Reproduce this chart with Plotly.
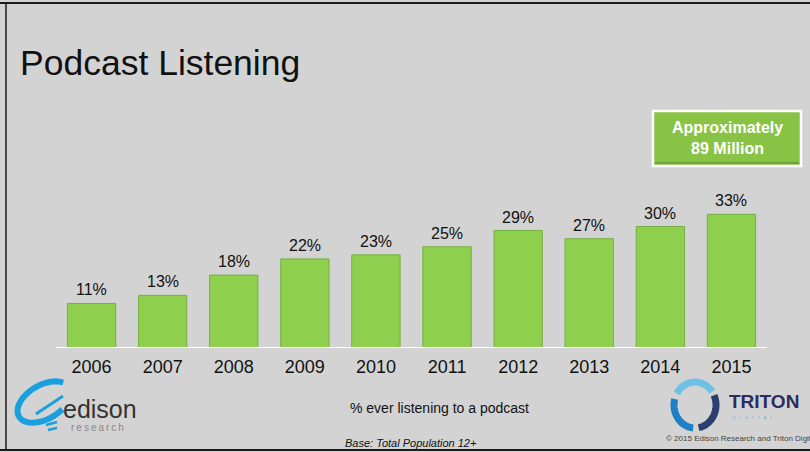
import numpy as np
import plotly.graph_objects as go

# ---- data ----
years = ["2006", "2007", "2008", "2009", "2010", "2011", "2012", "2013", "2014", "2015"]
pct = [11, 13, 18, 22, 23, 25, 29, 27, 30, 33]
pct_labels = [f"{v}%" for v in pct]
title_text = "Podcast Listening"
callout_text = "Approximately<br>89 Million"
axis_caption = "% ever listening to a podcast"
base_note = "Base: Total Population 12+"
copyright_text = "© 2015 Edison Research and Triton Digital"

W, H = 810, 452
L, R, T, B = 56, 43, 160, 104
PW, PH = W - L - R, H - T - B
PX_PER_UNIT = 4.05
BG = "#D3D3D3"
FONT = "Liberation Sans, Arial, sans-serif"


def px(x):
    return (x - L) / PW


def py(y):
    return (H - B - y) / PH


def path_from(points, close=False):
    s = "M " + " L ".join(f"{px(a):.5f},{py(b):.5f}" for a, b in points)
    return s + (" Z" if close else "")


def arc_pts(cx, cy, rx, ry, a0, a1, rot=0.0, n=40):
    t = np.radians(np.linspace(a0, a1, n))
    r = np.radians(rot)
    x = rx * np.cos(t)
    y = -ry * np.sin(t)
    xr = x * np.cos(r) - y * np.sin(r)
    yr = x * np.sin(r) + y * np.cos(r)
    return list(zip(cx + xr, cy + yr))


fig = go.Figure()
fig.add_trace(go.Bar(
    x=years, y=pct,
    marker=dict(color="#8FCF4E", line=dict(color="#78AE45", width=1)),
    width=0.68, hoverinfo="skip",
))

shapes = []
# baseline
shapes.append(dict(type="line", xref="paper", yref="y", x0=0, x1=1, y0=0, y1=0,
                   line=dict(color="white", width=2), layer="above"))
# slide border
shapes.append(dict(type="line", xref="paper", yref="paper", x0=px(0), x1=px(W), y0=py(3), y1=py(3),
                   line=dict(color="#1a1a1a", width=2)))
shapes.append(dict(type="line", xref="paper", yref="paper", x0=px(0), x1=px(W), y0=py(450), y1=py(450),
                   line=dict(color="#1a1a1a", width=2)))
shapes.append(dict(type="line", xref="paper", yref="paper", x0=px(6), x1=px(6), y0=py(3), y1=py(450),
                   line=dict(color="#1a1a1a", width=1.5)))
# callout box
shapes.append(dict(type="rect", xref="paper", yref="paper", x0=px(653), x1=px(801), y0=py(111), y1=py(166),
                   fillcolor="#88C346", line=dict(color="white", width=2.5)))
shapes.append(dict(type="line", xref="paper", yref="paper", x0=px(655), x1=px(799), y0=py(163), y1=py(163),
                   line=dict(color="#6FA43A", width=2)))

# Edison logo (approximation)
blue = "#1AA0DE"
shapes.append(dict(type="path", xref="paper", yref="paper",
                   path=path_from(arc_pts(44, 402, 29, 17, 25, 295, rot=-30)),
                   line=dict(color=blue, width=6)))
shapes.append(dict(type="path", xref="paper", yref="paper",
                   path=path_from([(36, 414), (63, 396)]), line=dict(color=blue, width=3)))
shapes.append(dict(type="path", xref="paper", yref="paper",
                   path=path_from([(46, 425), (57, 422)]), line=dict(color=blue, width=2.5)))
shapes.append(dict(type="path", xref="paper", yref="paper",
                   path=path_from([(48, 430), (57, 428)]), line=dict(color=blue, width=2.5)))

# Triton logo icon (approximation)
cx, cy, r = 695, 405, 21
shapes.append(dict(type="path", xref="paper", yref="paper",
                   path=path_from(arc_pts(cx, cy, r, r + 2, 35, 150)), line=dict(color="#6EC1E4", width=7)))
shapes.append(dict(type="path", xref="paper", yref="paper",
                   path=path_from(arc_pts(cx, cy, r, r + 2, 165, 265)), line=dict(color="#1E7FC4", width=7)))
shapes.append(dict(type="path", xref="paper", yref="paper",
                   path=path_from(arc_pts(cx, cy, r, r + 2, 280, 385)), line=dict(color="#2C3E70", width=7)))

annotations = []
for i, (v, lab) in enumerate(zip(pct, pct_labels)):
    annotations.append(dict(x=i, y=v, xref="x", yref="y", text=lab, showarrow=False,
                            yanchor="bottom", yshift=3, font=dict(size=16, color="#111", family=FONT)))


def txt(x, y, text, size, color="#111", xanchor="center", family=FONT, **kw):
    annotations.append(dict(x=px(x), y=py(y), xref="paper", yref="paper", text=text, showarrow=False,
                            xanchor=xanchor, yanchor="middle", font=dict(size=size, color=color, family=family, **kw)))


txt(18, 63, title_text, 35.5, xanchor="left")
txt(727, 138, callout_text, 16, color="white", weight="bold")
txt(440, 408, axis_caption, 14)
txt(411, 443, base_note, 11, style="italic")
txt(664, 438, copyright_text, 8, color="#444", xanchor="left")
txt(61, 409, "edison", 25, color="#333", xanchor="left")
txt(69, 427, "r\u2009e\u2009s\u2009e\u2009a\u2009r\u2009c\u2009h", 10, color="#888", xanchor="left")
txt(727, 401, "TRITON", 19, color="#2B2D5C", xanchor="left", weight="bold")
txt(731, 417, "D\u2003I\u2003G\u2003I\u2003T\u2003A\u2003L", 4, color="#6EA8D8", xanchor="left")

fig.update_layout(
    width=W, height=H,
    margin=dict(l=L, r=R, t=T, b=B),
    paper_bgcolor=BG, plot_bgcolor=BG,
    showlegend=False,
    bargap=0.32,
    xaxis=dict(type="category", range=[-0.5, 9.5], showgrid=False, zeroline=False, showline=False,
               ticks="", tickfont=dict(size=18, color="#111", family=FONT), ticklabelstandoff=6),
    yaxis=dict(range=[0, PH / PX_PER_UNIT], visible=False, showgrid=False, zeroline=False),
    shapes=shapes,
    annotations=annotations,
)

fig.write_html("out.html")
